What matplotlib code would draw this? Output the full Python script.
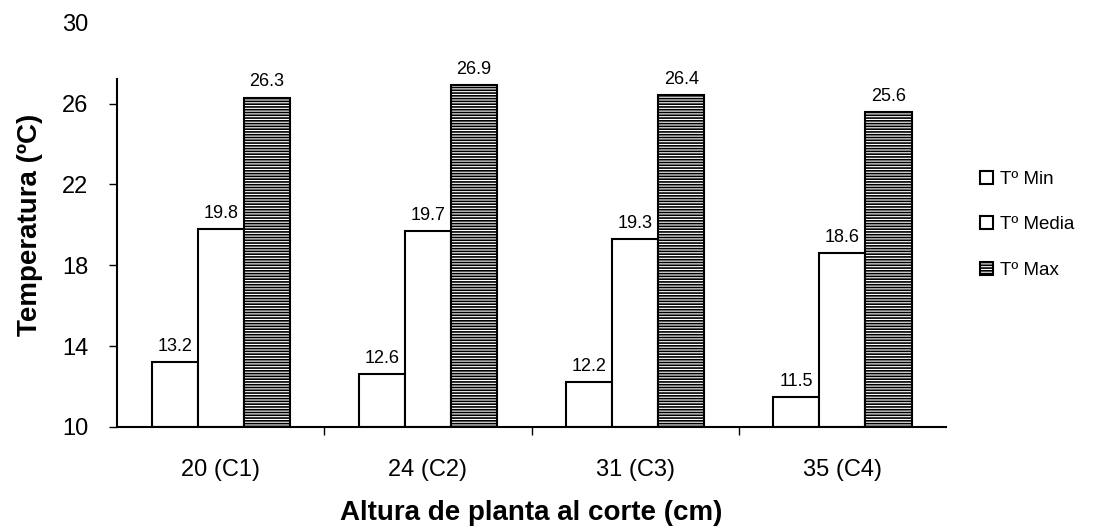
import numpy as np
import matplotlib

matplotlib.use("Agg")
import matplotlib.pyplot as plt

plt.rcParams["font.family"] = ["Liberation Sans", "DejaVu Sans"]
plt.rcParams["hatch.linewidth"] = 1.2

categories = ["20 (C1)", "24 (C2)", "31 (C3)", "35 (C4)"]
t_min = [13.2, 12.6, 12.2, 11.5]
t_media = [19.8, 19.7, 19.3, 18.6]
t_max = [26.3, 26.9, 26.4, 25.6]
series_names = ["Tº Min", "Tº Media", "Tº Max"]
y_ticks = [10, 14, 18, 22, 26, 30]

fg = plt.figure(figsize=(11.04, 5.29), dpi=100)
ax = fg.add_axes([0.106, 0.193, 0.751, 0.764])

x = np.arange(len(categories))
w = 0.222
for i, (vals, name) in enumerate(zip([t_min, t_media, t_max], series_names)):
    ax.bar(
        x + (i - 1) * w,
        np.array(vals) - 10,
        bottom=10,
        width=w,
        color="white",
        edgecolor="black",
        linewidth=1.5,
        hatch="------" if i == 2 else None,
        label=name,
    )
    for xi, v in zip(x + (i - 1) * w, vals):
        ax.text(xi, v + 0.35, "%.1f" % v, ha="center", va="bottom", fontsize=13)

ax.set_xlim(-0.5, len(categories) - 0.5)
ax.set_ylim(10, 30)
ax.set_yticks(y_ticks)
ax.set_xticks(x)
ax.set_xticklabels(categories, fontsize=17)
ax.set_xticks(x[:-1] + 0.5, minor=True)
ax.tick_params(axis="x", which="major", length=0, pad=23)
ax.tick_params(axis="x", which="minor", length=6, width=1)
ax.tick_params(axis="y", labelsize=17, length=6, width=1, pad=24)
for lbl in ax.get_yticklabels():
    lbl.set_horizontalalignment("center")
ax.yaxis.get_major_ticks()[-1].tick1line.set_visible(False)
ax.spines["top"].set_visible(False)
ax.spines["right"].set_visible(False)
ax.spines["left"].set_bounds(10, 27.2)
ax.spines["left"].set_linewidth(1.5)
ax.spines["bottom"].set_linewidth(1.5)

ax.set_ylabel("Temperatura (ºC)", fontsize=20, fontweight="bold", labelpad=14)
ax.set_xlabel("Altura de planta al corte (cm)", fontsize=20, fontweight="bold", labelpad=14)

ax.legend(
    loc="center left",
    bbox_to_anchor=(1.02, 0.5),
    frameon=False,
    fontsize=13.5,
    handlelength=0.7,
    handleheight=0.7,
    handletextpad=0.4,
    labelspacing=1.5,
)

fg.savefig("out.png", dpi=100)
plt.close(fg)
